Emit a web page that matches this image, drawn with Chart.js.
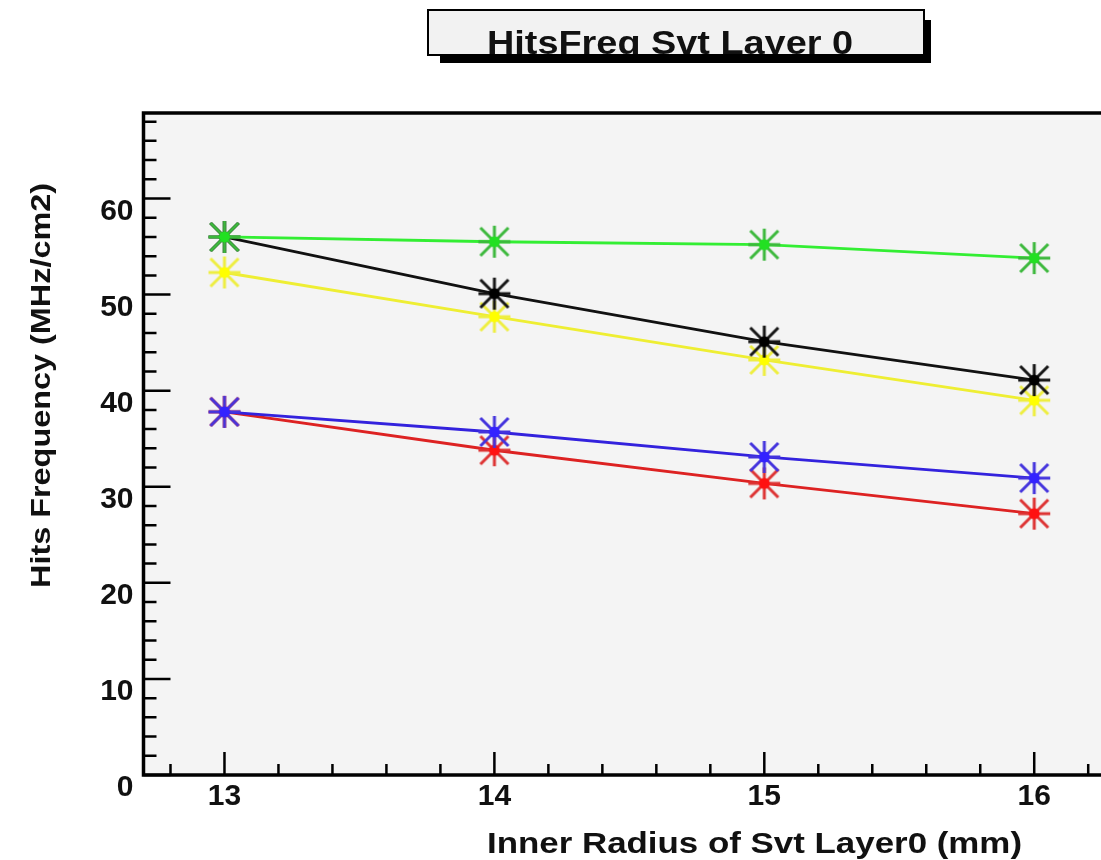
<!DOCTYPE html>
<html>
<head>
<meta charset="utf-8">
<script src="https://cdn.jsdelivr.net/npm/chart.js@4"></script>
<style>
  html, body { margin: 0; padding: 0; background: #fff; overflow: hidden; }
  #wrap { width: 1134px; height: 860px; }
</style>
</head>
<body>
<div id="wrap"><canvas id="c" width="1134" height="860"></canvas></div>
<script>
// ---- data ----
const xValues = [13, 14, 15, 16];
const greenSeries  = [56.0, 55.5, 55.2, 53.8];
const blackSeries  = [56.0, 50.1, 45.1, 41.1];
const yellowSeries = [52.3, 47.7, 43.2, 39.0];
const blueSeries   = [37.8, 35.7, 33.1, 30.9];
const redSeries    = [37.8, 33.8, 30.35, 27.2];
const xTickValues = [13, 14, 15, 16];
const yTickValues = [0, 10, 20, 30, 40, 50, 60];
const chartTitle = 'HitsFreq Svt Layer 0';
const xTitle = 'Inner Radius of Svt Layer0 (mm)';
const yTitle = 'Hits Frequency (MHz/cm2)';

const FONT = '"Liberation Sans", Arial, Helvetica, sans-serif';

function pts(ys) { return xValues.map((x, i) => ({ x: x, y: ys[i] })); }

// ROOT-like "*" marker drawn into a small canvas, used as pointStyle
function makeMarker(arm, center) {
  const s = 40, m = 20, r = 16, d = 14;
  const c = document.createElement('canvas');
  c.width = s; c.height = s;
  const g = c.getContext('2d');
  g.strokeStyle = arm;
  g.lineWidth = 3;
  g.beginPath();
  g.moveTo(m - r, m); g.lineTo(m + r, m);
  g.moveTo(m, m - r); g.lineTo(m, m + r);
  g.moveTo(m - d, m - d); g.lineTo(m + d, m + d);
  g.moveTo(m - d, m + d); g.lineTo(m + d, m - d);
  g.stroke();
  g.fillStyle = center;
  g.beginPath();
  g.arc(m, m, 5.5, 0, Math.PI * 2);
  g.fill();
  return c;
}

function ds(label, ys, line, arm, center) {
  return {
    label: label, data: pts(ys),
    borderColor: line, borderWidth: 2.8,
    pointStyle: makeMarker(arm, center), pointRadius: 16,
    pointBorderColor: arm, pointBackgroundColor: center,
    tension: 0, fill: false
  };
}

function stretchText(ctx, text, x, y, targetW, font) {
  ctx.font = font;
  const w = ctx.measureText(text).width;
  ctx.save();
  ctx.translate(x, y);
  ctx.scale(targetW / w, 1);
  ctx.textAlign = 'left';
  ctx.textBaseline = 'alphabetic';
  ctx.fillText(text, 0, 0);
  ctx.restore();
}

const decor = {
  id: 'decor',
  beforeDraw(chart) {
    const { ctx, chartArea: a } = chart;
    ctx.save();
    ctx.fillStyle = '#ffffff';
    ctx.fillRect(0, 0, chart.width, chart.height);
    ctx.fillStyle = '#f4f4f4';
    ctx.fillRect(a.left, a.top, a.right - a.left, a.bottom - a.top);
    ctx.restore();
  },
  afterDraw(chart) {
    const { ctx, chartArea: a } = chart;
    const xs = chart.scales.x, ys = chart.scales.y;
    ctx.save();
    ctx.strokeStyle = '#000';
    ctx.fillStyle = '#000';
    // ticks (inward)
    ctx.lineWidth = 2.5;
    ctx.beginPath();
    for (let v = 0; v <= 68.001; v += 2) {
      const p = ys.getPixelForValue(v);
      const major = Math.abs(v % 10) < 0.001;
      ctx.moveTo(a.left, p);
      ctx.lineTo(a.left + (major ? 27 : 13), p);
    }
    for (let k = 64; k <= 81; k++) {
      const v = k / 5;
      const p = xs.getPixelForValue(v);
      const major = k % 5 === 0;
      ctx.moveTo(p, a.bottom);
      ctx.lineTo(p, a.bottom - (major ? 23 : 11));
    }
    ctx.stroke();
    // frame
    ctx.lineWidth = 3.5;
    ctx.beginPath();
    ctx.moveTo(a.right + 10, a.top);
    ctx.lineTo(a.left, a.top);
    ctx.lineTo(a.left, a.bottom);
    ctx.lineTo(a.right + 10, a.bottom);
    ctx.stroke();

    // title box with shadow
    ctx.fillStyle = '#000';
    ctx.fillRect(440, 20, 491, 43);
    ctx.fillStyle = '#f2f2f2';
    ctx.fillRect(428, 10, 496, 45);
    ctx.lineWidth = 2;
    ctx.strokeRect(428, 10, 496, 45);
    ctx.save();
    ctx.beginPath();
    ctx.rect(429, 11, 494, 43);
    ctx.clip();
    ctx.fillStyle = '#111';
    stretchText(ctx, chartTitle, 487, 54, 366, 'bold 34px ' + FONT);
    ctx.restore();

    // axis titles
    ctx.fillStyle = '#111';
    stretchText(ctx, xTitle, 487, 853, 535, 'bold 29px ' + FONT);
    ctx.save();
    ctx.translate(50, 588);
    ctx.rotate(-Math.PI / 2);
    stretchText(ctx, yTitle, 0, 0, 405, 'bold 28px ' + FONT);
    ctx.restore();
    ctx.restore();
  }
};

new Chart(document.getElementById('c'), {
  type: 'line',
  data: {
    datasets: [
      ds('green',  greenSeries,  '#33ee33', '#3cb83c', '#22e022'),
      ds('black',  blackSeries,  '#111111', '#151515', '#000000'),
      ds('yellow', yellowSeries, '#eeee33', '#eeee40', '#ffff00'),
      ds('blue',   blueSeries,   '#3322dd', '#4434dd', '#3322ff'),
      ds('red',    redSeries,    '#dd2222', '#dd3333', '#ff1111')
    ]
  },
  options: {
    responsive: false,
    animation: false,
    devicePixelRatio: 1,
    layout: { padding: { top: 113, right: 6, left: 0, bottom: 0 } },
    plugins: { legend: { display: false }, tooltip: { enabled: false }, title: { display: false } },
    scales: {
      x: {
        type: 'linear', min: 12.7, max: 16.3,
        afterBuildTicks: s => { s.ticks = xTickValues.map(v => ({ value: v })); },
        afterFit: s => { s.height = 85; },
        grid: { display: false, drawTicks: false },
        border: { display: false },
        ticks: { color: '#111', padding: 4, maxRotation: 0, autoSkip: false,
                 font: { family: FONT, size: 30, weight: 'bold' } }
      },
      y: {
        type: 'linear', min: 0, max: 68.9,
        afterBuildTicks: s => { s.ticks = yTickValues.map(v => ({ value: v })); },
        afterFit: s => { s.width = 143.5; },
        grid: { display: false, drawTicks: false },
        border: { display: false },
        ticks: { color: '#111', padding: 10, labelOffset: 13, autoSkip: false,
                 font: { family: FONT, size: 30, weight: 'bold' } }
      }
    }
  },
  plugins: [decor]
});
</script>
</body>
</html>
